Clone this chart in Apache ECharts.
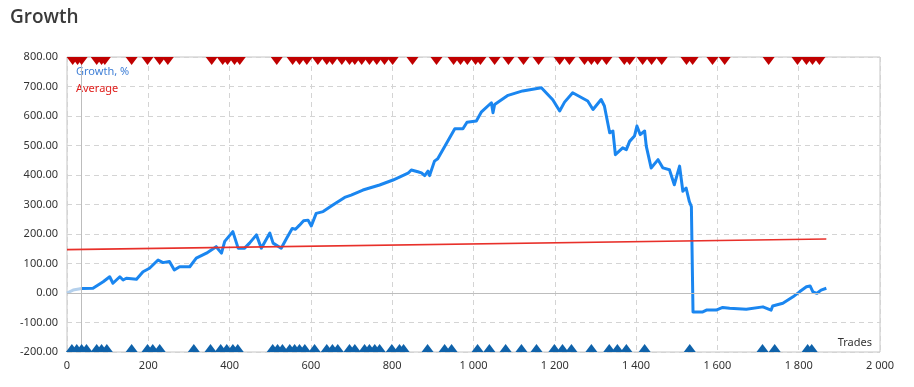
<!DOCTYPE html>
<html>
<head>
<meta charset="utf-8">
<script src="https://cdn.jsdelivr.net/npm/echarts@6/dist/echarts.min.js"></script>
<style>
html,body{margin:0;padding:0;background:#fff;}
#c{width:914px;height:387px;}
</style>
</head>
<body>
<div id="c"></div>
<script>
// ---- data ----
const startTrades = [0, 15, 36];
const startGrowth = [0, 10, 15];

const growthTrades = [36, 39, 64, 89, 105, 113, 130, 138, 146, 171, 187, 203, 224, 236, 252, 264, 277, 302, 318, 343, 367, 380, 388, 408, 421, 437, 449, 466, 478, 499, 507, 527, 540, 554, 562, 572, 582, 593, 601, 613, 630, 654, 683, 699, 728, 769, 802, 839, 847, 863, 872, 880, 888, 892, 904, 912, 954, 974, 984, 1007, 1019, 1044, 1048, 1052, 1085, 1121, 1167, 1195, 1212, 1224, 1244, 1281, 1294, 1314, 1322, 1335, 1343, 1349, 1367, 1376, 1384, 1396, 1402, 1410, 1421, 1425, 1437, 1454, 1466, 1482, 1494, 1507, 1515, 1523, 1531, 1536, 1540, 1564, 1573, 1597, 1613, 1630, 1671, 1712, 1732, 1736, 1761, 1786, 1802, 1819, 1828, 1835, 1845, 1855, 1868];
const growthValues = [15, 12, 16, 38, 55, 33, 55, 44, 50, 47, 72, 84, 112, 103, 107, 78, 89, 89, 118, 135, 157, 135, 175, 208, 152, 152, 169, 197, 152, 203, 169, 152, 185, 219, 216, 230, 245, 247, 227, 270, 276, 298, 324, 332, 349, 366, 383, 406, 417, 411, 407, 398, 413, 398, 447, 455, 557, 557, 579, 583, 613, 645, 611, 639, 670, 685, 696, 655, 617, 647, 679, 651, 622, 656, 634, 543, 549, 469, 492, 486, 514, 532, 566, 537, 549, 498, 424, 452, 424, 418, 367, 430, 345, 356, 310, 293, -64, -64, -58, -58, -49, -52, -55, -47, -58, -44, -35, -13, 4, 21, 24, 4, -1, 10, 16];

const averageTrades = [0, 1868];
const averageValues = [147, 183];

const withdrawTrades = [14, 26, 36, 73, 85, 93, 159, 198, 228, 248, 356, 383, 395, 412, 425, 516, 555, 572, 590, 617, 639, 653, 676, 695, 708, 725, 744, 762, 781, 801, 850, 909, 951, 968, 985, 1005, 1017, 1052, 1086, 1123, 1160, 1212, 1236, 1273, 1290, 1305, 1327, 1371, 1384, 1416, 1438, 1463, 1524, 1539, 1588, 1618, 1726, 1797, 1819, 1834, 1851];
const depositTrades = [12, 24, 36, 48, 73, 85, 98, 159, 198, 211, 228, 312, 353, 378, 393, 408, 420, 506, 518, 530, 548, 560, 572, 585, 609, 639, 653, 666, 695, 708, 732, 744, 757, 769, 799, 818, 828, 887, 929, 946, 1010, 1039, 1079, 1118, 1155, 1199, 1219, 1241, 1290, 1334, 1354, 1376, 1421, 1532, 1711, 1741, 1822, 1832];

const startMarkerTrade = 36;
const yTickMin = -200, yTickMax = 800, yTickStep = 100;
const xTickMin = 0, xTickMax = 2000, xTickStep = 200;

// ---- build ----
const zip = (a, b) => a.map((v, i) => [v, b[i]]);
const FONT = 'Noto Sans';

const chart = echarts.init(document.getElementById('c'), null, {renderer: 'canvas'});
chart.setOption({
  animation: false,
  backgroundColor: '#fff',
  title: {
    text: 'Growth', left: 5, top: 3,
    textStyle: {fontFamily: 'Open Sans', fontSize: 19, fontWeight: 600, color: '#3a3a3a'}
  },
  legend: {
    orient: 'vertical', left: 66, top: 61, itemWidth: 0, itemHeight: 0, itemGap: 6,
    selectedMode: false,
    data: [
      {name: 'Growth, %', icon: 'none', textStyle: {color: '#3f7fd6'}},
      {name: 'Average', icon: 'none', textStyle: {color: '#e0201e'}}
    ],
    textStyle: {fontFamily: FONT, fontSize: 11, padding: 0}
  },
  grid: {left: 67, right: 34, top: 57, bottom: 35, show: true, borderColor: '#c4c4c4', borderWidth: 1},
  xAxis: {
    type: 'value', min: xTickMin, max: xTickMax, interval: xTickStep,
    axisLine: {show: false}, axisTick: {show: false},
    axisLabel: {
      margin: 8, color: '#333', fontFamily: FONT, fontSize: 11,
      formatter: v => String(v).replace(/\B(?=(\d{3})+(?!\d))/g, ' ')
    },
    splitLine: {show: true, lineStyle: {color: '#d4d4d4', type: [5, 4]}}
  },
  yAxis: {
    type: 'value', min: yTickMin, max: yTickMax, interval: yTickStep,
    axisLine: {show: false}, axisTick: {show: false},
    axisLabel: {margin: 9, color: '#333', fontFamily: FONT, fontSize: 11, formatter: v => v.toFixed(2)},
    splitLine: {show: true, lineStyle: {color: '#d4d4d4', type: [5, 4]}}
  },
  graphic: [{
    type: 'text', right: 42, top: 337,
    style: {text: 'Trades', fill: '#333', font: '11px "Noto Sans"'}
  }],
  series: [
    {
      name: 'ref', type: 'line', data: [], silent: true,
      markLine: {
        silent: true, symbol: 'none', label: {show: false},
        lineStyle: {color: '#bdbdbd', type: 'solid', width: 1},
        data: [{yAxis: 0}, {xAxis: startMarkerTrade}]
      }
    },
    {
      name: 'start', type: 'line', data: zip(startTrades, startGrowth), showSymbol: false,
      lineStyle: {color: '#b4d0ec', width: 3}, z: 3
    },
    {
      name: 'Growth, %', type: 'line', data: zip(growthTrades, growthValues), showSymbol: false,
      lineStyle: {color: '#1a86f0', width: 3, join: 'round'}, itemStyle: {color: '#1a86f0'}, z: 4
    },
    {
      name: 'Average', type: 'line', data: zip(averageTrades, averageValues), showSymbol: false,
      lineStyle: {color: '#e8302a', width: 1.6}, itemStyle: {color: '#e8302a'}, z: 5
    },
    {
      name: 'withdraw', type: 'scatter', data: withdrawTrades.map(t => [t, yTickMax]),
      symbol: 'triangle', symbolRotate: 180, symbolSize: [12, 8], symbolOffset: [0, 4],
      itemStyle: {color: '#c00000', opacity: 1}, clip: false, z: 6
    },
    {
      name: 'deposit', type: 'scatter', data: depositTrades.map(t => [t, yTickMin]),
      symbol: 'triangle', symbolSize: [12, 8], symbolOffset: [0, -4],
      itemStyle: {color: '#0f62aa', opacity: 1}, clip: false, z: 6
    }
  ]
});
</script>
</body>
</html>
